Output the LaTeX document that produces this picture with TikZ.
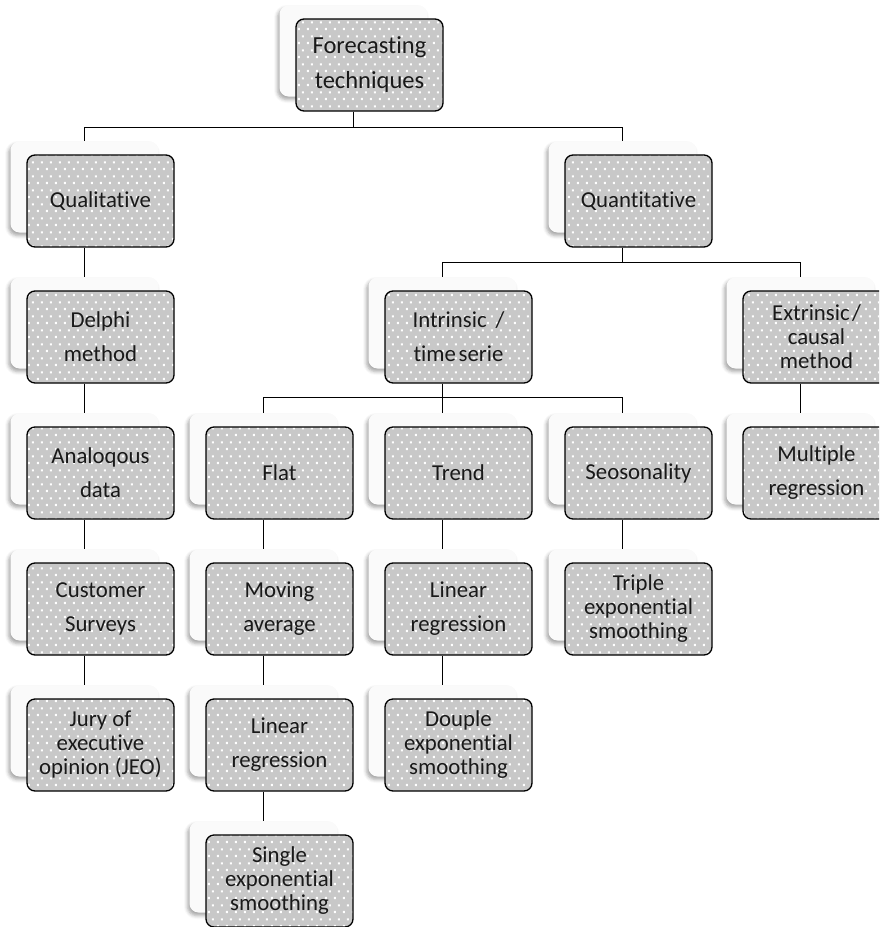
\documentclass[tikz,border=0pt]{standalone}
\usepackage{fontspec}
\setmainfont{Carlito}[Ligatures={NoCommon,NoContextual}]
\usetikzlibrary{patterns,shadows.blur,calc}
\definecolor{boxgray}{HTML}{C8C8C8}
\pgfdeclarepatternformonly{wdots}{\pgfpointorigin}{\pgfpoint{9pt}{14pt}}{\pgfpoint{9pt}{14pt}}{%
  \pgfpathrectangle{\pgfpoint{1pt}{1pt}}{\pgfpoint{2.2pt}{2.2pt}}%
  \pgfpathrectangle{\pgfpoint{5.5pt}{8pt}}{\pgfpoint{2.2pt}{2.2pt}}%
  \pgfusepath{fill}}
\newcommand{\twol}{\fontsize{22.8}{34}\selectfont}
\newcommand{\thrl}{\fontsize{22.8}{24}\selectfont}
\newcommand{\topl}{\fontsize{24.5}{35}\selectfont}
\tikzset{
  fbox/.style={draw=black, line width=1.3pt, rounded corners=8pt,
    minimum width=147pt, minimum height=92pt, inner sep=2pt, align=center,
    preaction={fill=boxgray}, pattern=wdots, pattern color=white, text=black!90},
  backbox/.style={minimum width=148pt, minimum height=91pt, rounded corners=9pt,
    inner sep=0pt, fill=gray!4,
    blur shadow={shadow xshift=-2pt, shadow yshift=-3pt, shadow blur radius=3.5pt, shadow opacity=35}},
  conn/.style={draw=black, line width=1.3pt}
}
\begin{document}
\begin{tikzpicture}[x=1pt,y=-1pt]
\useasboundingbox (0,0) rectangle (879,927);
\clip (0,0) rectangle (879,927);
% back boxes (offset -16,-14)
\foreach \n/\cx/\cy in {topB/369.5/65, qualB/100.5/201, quanB/638.5/201,
  delphiB/100.5/337, intrB/458.5/337, extrB/816.5/337,
  analogB/100.5/473, flatB/279.5/473, trendB/458.5/473, seasB/638.5/473, multiB/816.5/473,
  custB/100.5/609, movingB/279.5/609, linAB/458.5/609, tripleB/638.5/609,
  juryB/100.5/745, linBB/279.5/745, doupleB/458.5/745, singleB/279.5/881}
  {\node[backbox] (\n) at (\cx-16,\cy-14) {};}
% front boxes
\node[fbox, font=\topl] (top) at (369.5,65) {Forecasting\\techniques};
\node[fbox, font=\twol] (qual) at (100.5,201) {Qualitative};
\node[fbox, font=\twol] (quan) at (638.5,201) {Quantitative};
\node[fbox, font=\twol] (delphi) at (100.5,337) {Delphi\\method};
\node[fbox, font=\twol] (intr) at (458.5,337) {Intrinsic \,/\\time\hspace{0.12em}serie};
\node[fbox, font=\thrl] (extr) at (816.5,337) {Extrinsic\hspace{0.1em}/\\causal\\method};
\node[fbox, font=\twol] (analog) at (100.5,473) {Analoqous\\data};
\node[fbox, font=\twol] (flat) at (279.5,473) {Flat};
\node[fbox, font=\twol] (trend) at (458.5,473) {Trend};
\node[fbox, font=\twol] (seas) at (638.5,473) {Seosonality};
\node[fbox, font=\twol] (multi) at (816.5,473) {Multiple\\regression};
\node[fbox, font=\twol] (cust) at (100.5,609) {Customer\\Surveys};
\node[fbox, font=\twol] (moving) at (279.5,609) {Moving\\average};
\node[fbox, font=\twol] (linA) at (458.5,609) {Linear\\regression};
\node[fbox, font=\thrl] (triple) at (638.5,609) {Triple\\exponential\\smoothing};
\node[fbox, font=\thrl] (jury) at (100.5,745) {Jury of\\executive\\opinion (JEO)};
\node[fbox, font=\twol] (linB) at (279.5,745) {Linear\\regression};
\node[fbox, font=\thrl] (douple) at (458.5,745) {Douple\\exponential\\smoothing};
\node[fbox, font=\thrl] (single) at (279.5,881) {Single\\exponential\\smoothing};
% connectors
\draw[conn] (topB.center |- top.south) -- ++(0,16) -| (qualB.north);
\draw[conn] (topB.center |- top.south) -- ++(0,16) -| (quanB.north);
\draw[conn] (quanB.center |- quan.south) -- ++(0,15) -| (intrB.north);
\draw[conn] (quanB.center |- quan.south) -- ++(0,15) -| (extrB.north);
\draw[conn] (intrB.center |- intr.south) -- ++(0,14) -| (flatB.north);
\draw[conn] (intrB.center |- intr.south) -- ++(0,14) -| (trendB.north);
\draw[conn] (intrB.center |- intr.south) -- ++(0,14) -| (seasB.north);
\draw[conn] (qualB.center |- qual.south) -- (delphiB.north);
\draw[conn] (delphiB.center |- delphi.south) -- (analogB.north);
\draw[conn] (analogB.center |- analog.south) -- (custB.north);
\draw[conn] (custB.center |- cust.south) -- (juryB.north);
\draw[conn] (extrB.center |- extr.south) -- (multiB.north);
\draw[conn] (flatB.center |- flat.south) -- (movingB.north);
\draw[conn] (movingB.center |- moving.south) -- (linBB.north);
\draw[conn] (linBB.center |- linB.south) -- (singleB.north);
\draw[conn] (trendB.center |- trend.south) -- (linAB.north);
\draw[conn] (linAB.center |- linA.south) -- (doupleB.north);
\draw[conn] (seasB.center |- seas.south) -- (tripleB.north);
\end{tikzpicture}
\end{document}
